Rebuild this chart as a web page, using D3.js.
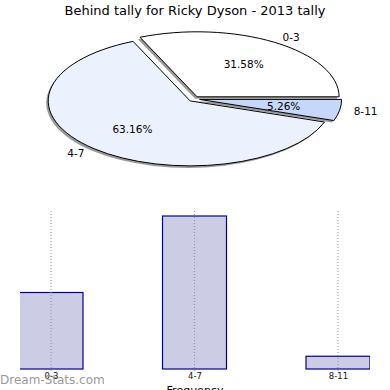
<!DOCTYPE html>
<html>
<head>
<meta charset="utf-8">
<script src="https://cdn.jsdelivr.net/npm/d3@7"></script>
<style>
  body { margin: 0; background: #fff; }
  text { font-family: "DejaVu Sans", sans-serif; }
</style>
</head>
<body>
<div id="chart"></div>
<script>
// datos del gráfico
const categorias = ['0-3', '4-7', '8-11'];
const valores = [6, 12, 1];
const colores = ['#ffffff', '#ebf1fd', '#c6d8fa'];
const titulo = 'Behind tally for Ricky Dyson - 2013 tally';

const width = 390, height = 390;

const svg = d3.select('#chart').append('svg')
  .attr('width', width)
  .attr('height', height);

// título
svg.append('text')
  .attr('x', 195).attr('y', 15)
  .attr('text-anchor', 'middle')
  .attr('font-size', '13px')
  .text(titulo);

// ---- pie (elíptico, estilo matplotlib: desde las 3 en sentido antihorario)
const pie = { cx: 194, cy: 99, rx: 142, ry: 65, explode: 0.04 };
const total = d3.sum(valores);
const arcs = d3.pie().sort(null)
  .startAngle(Math.PI / 2)
  .endAngle(Math.PI / 2 - 2 * Math.PI)(valores);
const arc = d3.arc().innerRadius(0).outerRadius(1);

function centro(d) {
  const m = (d.startAngle + d.endAngle) / 2;
  return [pie.cx + pie.explode * pie.rx * Math.sin(m), pie.cy - pie.explode * pie.ry * Math.cos(m)];
}

const gPie = svg.append('g');
// sombras
gPie.selectAll('path.sombra')
  .data(arcs)
  .join('path')
  .attr('class', 'sombra')
  .attr('transform', d => { const c = centro(d); return `translate(${c[0] - 2},${c[1] + 2}) scale(${pie.rx},${pie.ry})`; })
  .attr('d', arc)
  .attr('fill', '#000')
  .attr('fill-opacity', 0.4);

gPie.selectAll('path.trozo')
  .data(arcs)
  .join('path')
  .attr('class', 'trozo')
  .attr('transform', d => { const c = centro(d); return `translate(${c[0]},${c[1]}) scale(${pie.rx},${pie.ry})`; })
  .attr('d', arc)
  .attr('fill', (d, i) => colores[i])
  .attr('stroke', '#000')
  .attr('stroke-width', 1)
  .attr('vector-effect', 'non-scaling-stroke');

// etiquetas
arcs.forEach((d, i) => {
  const m = (d.startAngle + d.endAngle) / 2;
  const c = centro(d);
  const dx = Math.sin(m), dy = -Math.cos(m);
  gPie.append('text')
    .attr('x', c[0] + 1.1 * pie.rx * dx)
    .attr('y', c[1] + 1.1 * pie.ry * dy)
    .attr('dy', '0.35em')
    .attr('text-anchor', dx > 0 ? 'start' : 'end')
    .attr('font-size', '10.5px')
    .text(categorias[i]);
  gPie.append('text')
    .attr('x', c[0] + 0.6 * pie.rx * dx)
    .attr('y', c[1] + 0.6 * pie.ry * dy)
    .attr('dy', '0.35em')
    .attr('text-anchor', 'middle')
    .attr('font-size', '10.5px')
    .text((100 * valores[i] / total).toFixed(2) + '%');
});

// ---- barras
const x = d3.scalePoint()
  .domain(categorias)
  .range([51, 338]);
const y = d3.scaleLinear()
  .domain([0, 12])
  .range([369, 216]);
const anchoBarra = 64;

svg.append('defs').append('clipPath').attr('id', 'clip')
  .append('rect').attr('x', 20).attr('y', 200).attr('width', 350).attr('height', 170);

svg.append('g')
  .attr('clip-path', 'url(#clip)')
  .selectAll('rect')
  .data(valores)
  .join('rect')
  .attr('x', (d, i) => x(categorias[i]) - anchoBarra / 2)
  .attr('y', d => y(d))
  .attr('width', anchoBarra)
  .attr('height', d => y(0) - y(d))
  .attr('fill', '#cccce5')
  .attr('stroke', '#000090')
  .attr('stroke-width', 1.2);

// rejilla vertical punteada
svg.append('g')
  .selectAll('line')
  .data(categorias)
  .join('line')
  .attr('x1', d => x(d)).attr('x2', d => x(d))
  .attr('y1', y(12.4)).attr('y2', 372)
  .attr('stroke', '#888')
  .attr('stroke-opacity', 0.7)
  .attr('stroke-width', 1.3)
  .attr('stroke-dasharray', '1,2');

// eje x
const ejeX = svg.append('g')
  .attr('transform', `translate(0,${y(0)})`)
  .call(d3.axisBottom(x).tickSize(0).tickPadding(4));
ejeX.select('.domain').remove();
ejeX.selectAll('text').attr('font-size', '8.5px').attr('fill', '#111').attr('font-family', '"DejaVu Sans Condensed", sans-serif');

svg.append('text')
  .attr('x', 195).attr('y', 394)
  .attr('text-anchor', 'middle')
  .attr('font-size', '11px')
  .text('Frequency');

// marca de agua
svg.append('text')
  .attr('x', 0).attr('y', 384)
  .attr('font-size', '12px')
  .attr('fill', '#8c8c8c')
  .attr('fill-opacity', 0.9)
  .text('Dream-Stats.com');
</script>
</body>
</html>
